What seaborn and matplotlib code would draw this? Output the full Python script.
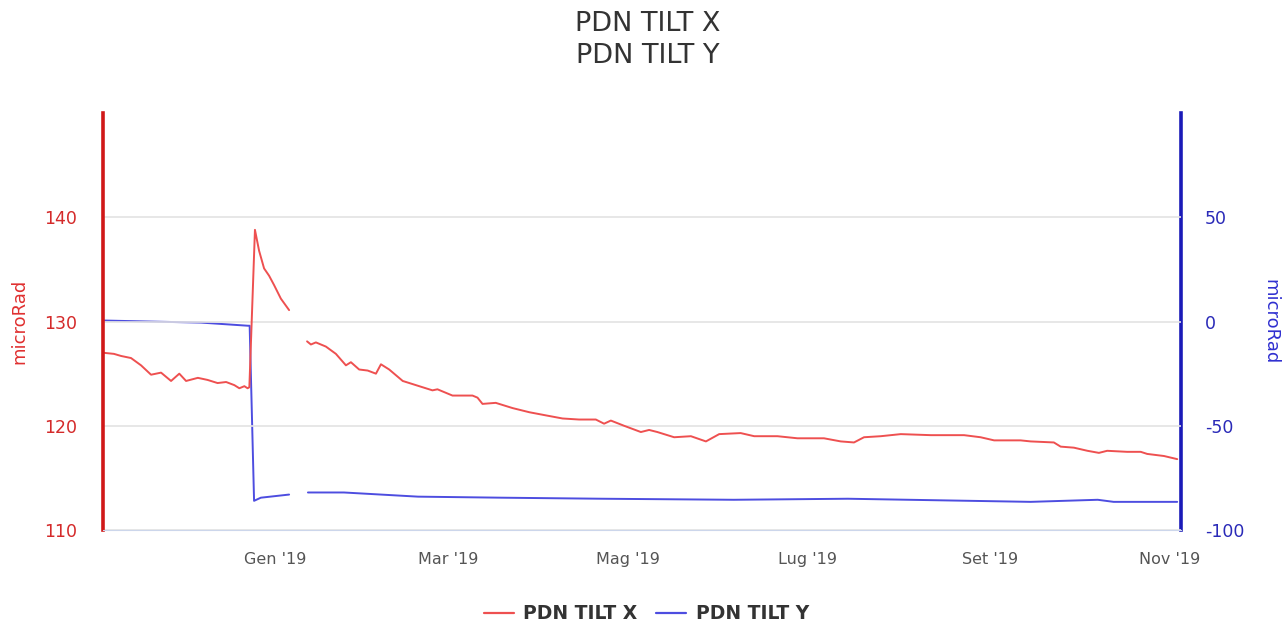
import numpy as np
import pandas as pd
import matplotlib
matplotlib.use("Agg")
import matplotlib.pyplot as plt
from matplotlib.lines import Line2D
import seaborn as sns

# ---------------- data ----------------
# days relative to 2019-01-01
x_seg1_days = [-58.1, -54.7, -52.3, -48.9, -45.5, -42.1, -38.7, -35.3, -32.5,
               -30.2, -26.2, -22.9, -19.5, -16.6, -13.8, -12.1, -10.4, -9.3,
               -8.7, -6.8, -5.4, -3.7, -2.0, -0.3, 2.0, 4.8]
x_seg1_vals = [127.0, 126.9, 126.7, 126.5, 125.8, 124.9, 125.1, 124.3, 125.0,
               124.3, 124.6, 124.4, 124.1, 124.2, 123.9, 123.6, 123.8, 123.6,
               123.7, 138.8, 136.8, 135.1, 134.4, 133.5, 132.2, 131.1]
x_seg2_days = [10.9, 12.2, 13.9, 17.3, 20.7, 24.1, 25.8, 28.6, 31.5, 34.3,
               36.0, 38.8, 43.4, 49.0, 53.5, 55.2, 60.3, 67.1, 68.8, 70.5,
               75.0, 80.7, 86.4, 92.0, 97.7, 103.3, 109.0, 111.8, 114.1, 118.6,
               124.3, 127.1, 129.9, 135.6, 141.3, 146.4, 150.9, 158.2, 162.8,
               170.7, 177.5, 186.5, 192.2, 196.7, 200.1, 205.8, 212.6, 222.8,
               234.1, 239.7, 244.3, 253.3, 256.7, 264.6, 266.9, 271.4, 276.0,
               279.9, 282.7, 289.5, 294.1, 296.3, 302.0, 306.5]
x_seg2_vals = [128.1, 127.8, 128.0, 127.6, 126.9, 125.8, 126.1, 125.4, 125.3,
               125.0, 125.9, 125.4, 124.3, 123.8, 123.4, 123.5, 122.9, 122.9,
               122.7, 122.1, 122.2, 121.7, 121.3, 121.0, 120.7, 120.6, 120.6,
               120.2, 120.5, 120.0, 119.4, 119.6, 119.4, 118.9, 119.0, 118.5,
               119.2, 119.3, 119.0, 119.0, 118.8, 118.8, 118.5, 118.4, 118.9,
               119.0, 119.2, 119.1, 119.1, 118.9, 118.6, 118.6, 118.5, 118.4,
               118.0, 117.9, 117.6, 117.4, 117.6, 117.5, 117.5, 117.3, 117.1,
               116.8]

y_seg1_days = [-58.1, -42.1, -25.1, -9.2, -8.6, -7.1, -4.8, 4.8]
y_seg1_vals = [0.5, 0.0, -0.5, -2.0, -2.0, -86.0, -84.5, -83.0]
y_seg2_days = [11.2, 23.4, 48.6, 77.0, 111.0, 155.9, 194.6, 256.7, 279.5,
               284.9, 306.5]
y_seg2_vals = [-82.0, -82.0, -84.0, -84.5, -85.0, -85.5, -85.0, -86.5, -85.5,
               -86.5, -86.5]

month_ticks = ["2019-01-01", "2019-03-01", "2019-05-01", "2019-07-01",
               "2019-09-01", "2019-11-01"]
month_labels = ["Gen '19", "Mar '19", "Mag '19", "Lug '19", "Set '19", "Nov '19"]
left_ticks = [110, 120, 130, 140]
right_ticks = [-100, -50, 0, 50]

base = pd.Timestamp("2019-01-01")


def build(days_list, vals_list):
    frames = []
    for i, (d, v) in enumerate(zip(days_list, vals_list)):
        frames.append(pd.DataFrame({
            "date": [base + pd.Timedelta(days=float(x)) for x in d],
            "value": v,
            "seg": i,
        }))
    return pd.concat(frames, ignore_index=True)


df_x = build([x_seg1_days, x_seg2_days], [x_seg1_vals, x_seg2_vals])
df_y = build([y_seg1_days, y_seg2_days], [y_seg1_vals, y_seg2_vals])

# ---------------- styling ----------------
sns.set_style("white")
plt.rcParams["font.family"] = ["DejaVu Sans"]

RED_LINE = "#ee5050"
BLUE_LINE = "#4d4de0"
RED_AX = "#d01818"
BLUE_AX = "#1a1ab8"
RED_TXT = "#d42a2a"
BLUE_TXT = "#2a2ab8"

fig = plt.figure(figsize=(12.85, 6.25), dpi=100)
ax = fig.add_axes([0.0802, 0.152, 0.8389, 0.667])
ax2 = ax.twinx()

sns.lineplot(data=df_x, x="date", y="value", units="seg", estimator=None,
             color=RED_LINE, lw=1.4, ax=ax, legend=False)
sns.lineplot(data=df_y, x="date", y="value", units="seg", estimator=None,
             color=BLUE_LINE, lw=1.4, ax=ax2, legend=False)

ax.set_xlim(base + pd.Timedelta(days=-58.4), base + pd.Timedelta(days=307.8))
ax.set_ylim(110, 150)
ax2.set_ylim(-100, 100)

# grid
ax.set_yticks(left_ticks)
ax.grid(axis="y", color="#e3e3e3", lw=1.2)
ax.grid(axis="x", visible=False)
ax2.grid(False)
ax.set_axisbelow(True)
ax.set_zorder(ax2.get_zorder() + 1)
ax.patch.set_visible(False)

# spines
for a in (ax, ax2):
    a.spines["top"].set_visible(False)
ax.spines["left"].set_color(RED_AX)
ax.spines["left"].set_linewidth(2.6)
ax2.spines["right"].set_color(BLUE_AX)
ax2.spines["right"].set_linewidth(2.6)
ax.spines["right"].set_visible(False)
ax2.spines["left"].set_visible(False)
ax.spines["bottom"].set_color("#ccd6eb")
ax2.spines["bottom"].set_visible(False)

# y ticks
ax.set_yticklabels([str(t) for t in left_ticks])
ax.tick_params(axis="y", length=0, pad=19, labelsize=12.5, labelcolor=RED_TXT)
ax2.set_yticks(right_ticks)
ax2.set_yticklabels([str(t) for t in right_ticks])
ax2.tick_params(axis="y", length=0, pad=17, labelsize=12.5, labelcolor=BLUE_TXT)

# x ticks
ax.set_xticks([pd.Timestamp(t) for t in month_ticks])
ax.set_xticklabels(month_labels)
ax.tick_params(axis="x", length=10, width=1, color="#ccd6eb", pad=6,
               labelsize=11.5, labelcolor="#555555", direction="out")

ax.set_xlabel("")
ax.set_ylabel("microRad", color="#e03030", fontsize=13)
ax2.set_ylabel("microRad", color="#3030d0", fontsize=13, rotation=270)
ax.yaxis.label.set_verticalalignment("center")
ax2.yaxis.label.set_verticalalignment("center")
ax.yaxis.set_label_coords(-0.078, 0.5)
ax2.yaxis.set_label_coords(1.083, 0.5)

# title
fig.text(0.504, 0.961, "PDN TILT X", ha="center", va="center",
         fontsize=19.5, color="#333333")
fig.text(0.504, 0.911, "PDN TILT Y", ha="center", va="center",
         fontsize=19.5, color="#333333")

# legend
handles = [Line2D([], [], color=RED_LINE, lw=1.6),
           Line2D([], [], color=BLUE_LINE, lw=1.6)]
leg = fig.legend(handles, ["PDN TILT X", "PDN TILT Y"], loc="center",
                 bbox_to_anchor=(0.503, 0.018), ncol=2, frameon=False,
                 handlelength=1.6, handletextpad=0.5, columnspacing=1.0,
                 prop={"weight": "bold", "size": 13.5})
for t in leg.get_texts():
    t.set_color("#333333")

fig.savefig("out.png", dpi=100)
